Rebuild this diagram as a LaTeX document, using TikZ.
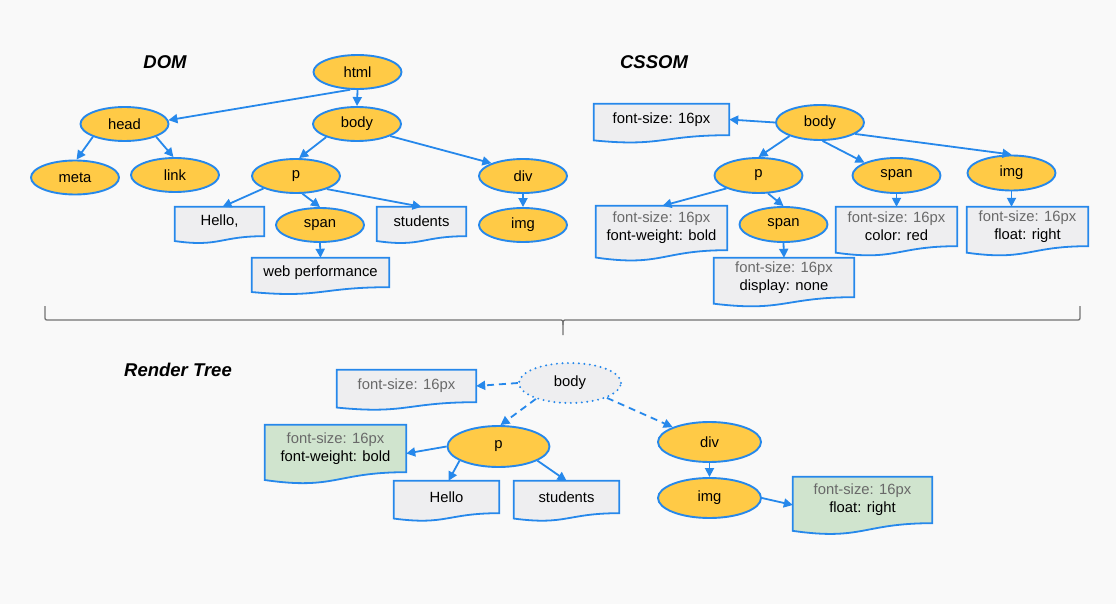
\documentclass[tikz,border=0pt]{standalone}
\usepackage{fontspec}
\setmainfont{Liberation Sans}
\usetikzlibrary{shapes.geometric,arrows.meta,calc}
\pgfdeclarelayer{background}
\pgfsetlayers{background,main}
\definecolor{bg}{RGB}{249,249,249}
\definecolor{lblue}{RGB}{38,136,235}
\definecolor{gold}{RGB}{255,202,70}
\definecolor{boxgray}{RGB}{238,238,240}
\definecolor{boxgreen}{RGB}{208,228,206}
\definecolor{txtgray}{RGB}{105,105,105}
\definecolor{bracegray}{RGB}{115,115,115}
\newcommand\nodefont{\fontsize{14.8}{18}\selectfont}
\newcommand\titlefont{\fontsize{18.5}{22}\selectfont\bfseries\itshape}
\tikzset{
  el/.style={ellipse, draw=lblue, line width=1.9pt, fill=gold, minimum width=88pt, minimum height=34pt, inner sep=0pt, font=\nodefont},
  rel/.style={el, minimum width=102pt, minimum height=41pt},
  doc/.style={rectangle, inner sep=0pt, font=\nodefont, align=center},
  arr/.style={draw=lblue, line width=1.8pt, -{Triangle[length=9pt,width=9pt]}},
  darr/.style={arr, dash pattern=on 7pt off 5pt},
  ttl/.style={font=\titlefont},
}
\newcommand\docshape[2]{%
  \begin{pgfonlayer}{background}
  \filldraw[draw=lblue, line width=1.8pt, fill=#2]
    let \p1=(#1.north west), \p2=(#1.south east), \n1={\y1-\y2} in
    (\x1,\y1) -- (\x2,\y1) -- (\x2,\y2)
    .. controls ({(\x1+\x2)/2},\y2) and ({(\x1+\x2)/2},{\y2-0.381*\n1}) ..
    (\x1,{\y2-0.165*\n1}) -- cycle;
  \end{pgfonlayer}}
\begin{document}
\begin{tikzpicture}[x=1pt,y=-1pt]
\begin{pgfonlayer}{background}
\fill[bg] (0,0) rectangle (1116,604);
\end{pgfonlayer}
\useasboundingbox (0,0) rectangle (1116,604);

% titles
\node[ttl] (tdom) at (165,62) {DOM};
\node[ttl] (tcssom) at (654,62) {CSSOM};
\node[ttl] (trender) at (178,370) {Render Tree};

% ---------------- DOM ----------------
\node[el] (html) at (357.5,72) {html};
\node[el] (head) at (124.5,124) {head};
\node[el] (dbody) at (357,124) {body};
\node[el] (meta) at (75,177.5) {meta};
\node[el] (link) at (175,175) {link};
\node[el] (dp) at (296,176) {p};
\node[el] (dspan) at (320,225) {span};
\node[el] (ddiv) at (523,176) {div};
\node[el] (dimg) at (523,225) {img};
\node[doc, minimum width=89pt, minimum height=29pt] (hello) at (219.5,221.5) {Hello,};
\node[doc, minimum width=89pt, minimum height=29pt] (dstudents) at (421.5,221.5) {students};
\node[doc, minimum width=137pt, minimum height=29pt] (web) at (320.5,272.5) {web performance};
\docshape{hello}{boxgray}
\docshape{dstudents}{boxgray}
\docshape{web}{boxgray}

\draw[arr] (html.248) -- (head.5);
\draw[arr] (html.south) -- (dbody.north);
\draw[arr] (head.202) -- (meta.85);
\draw[arr] (head.338) -- (link.95);
\draw[arr] (dbody.203) -- (dp.80);
\draw[arr] (dbody.340) -- (ddiv.158);
\draw[arr] (dp.201) -- ([xshift=3pt]hello.north);
\draw[arr] (dp.290) -- (dspan.north);
\draw[arr] (dp.337) -- (dstudents.north);
\draw[arr] (dspan.south) -- (web.north);
\draw[arr] (ddiv.south) -- (dimg.north);

% ---------------- CSSOM ----------------
\node[el, minimum height=35pt] (cbody) at (820,122.5) {body};
\node[el, minimum height=35pt] (cp) at (758.5,175.5) {p};
\node[el, minimum height=35pt] (cspan2) at (783.5,224.5) {span};
\node[el, minimum height=35pt] (cspan) at (896.5,175.5) {span};
\node[el, minimum height=35pt] (cimg) at (1011.5,173) {img};
\node[doc, minimum width=135pt, minimum height=31pt] (cfs) at (661.5,119.5) {font-size: 16px};
\node[doc, minimum width=131pt, minimum height=44pt] (cpbox) at (661.5,228) {\textcolor{txtgray}{font-size: 16px}\\font-weight: bold};
\node[doc, minimum width=140pt, minimum height=39pt] (cspan2box) at (784,277.5) {\textcolor{txtgray}{font-size: 16px}\\display: none};
\node[doc, minimum width=121pt, minimum height=39pt] (cspanbox) at (896.5,226.5) {\textcolor{txtgray}{font-size: 16px}\\color: red};
\node[doc, minimum width=121pt, minimum height=39pt] (cimgbox) at (1027.5,226.5) {\textcolor{txtgray}{font-size: 16px}\\float: right};
\docshape{cfs}{boxgray}
\docshape{cpbox}{boxgray}
\docshape{cspan2box}{boxgray}
\docshape{cspanbox}{boxgray}
\docshape{cimgbox}{boxgray}

\draw[arr] (cbody.west) -- (cfs.east);
\draw[arr] (cbody.204) -- (cp.north);
\draw[arr] (cbody.278) -- (cspan.158);
\draw[arr] (cbody.342) -- (cimg.north);
\draw[arr] (cp.202) -- ([xshift=1pt]cpbox.north);
\draw[arr] (cp.298) -- (cspan2.north);
\draw[arr] (cspan2.south) -- (cspan2box.north);
\draw[arr] (cspan.south) -- (cspanbox.north);
\draw[arr] (cimg.south) -- (cimg.south |- cimgbox.north);

% ---------------- brace ----------------
\draw[bracegray, line width=1.3pt, line join=round]
  (45,306) -- (45,316) .. controls (45,320) .. (49,320) -- (559,320)
  .. controls (563,320) .. (563,325) -- (563,335);
\draw[bracegray, line width=1.3pt, line join=round]
  (1080,306) -- (1080,316) .. controls (1080,320) .. (1076,320) -- (567,320)
  .. controls (563,320) .. (563,325);

% ---------------- Render Tree ----------------
\node[rel, fill=boxgray, draw=lblue, line width=2.2pt, dash pattern=on 0pt off 5.5pt, line cap=round, minimum height=40pt] (rbody) at (570,383) {body};
\node[rel] (rp) at (498.5,446.5) {p};
\node[rel, minimum width=103pt, minimum height=40pt] (rdiv) at (709.5,442) {div};
\node[rel, minimum width=103pt, minimum height=40pt] (rimg) at (709.5,498) {img};
\node[doc, minimum width=139pt, minimum height=32pt] (rfs) at (406.5,386) {\textcolor{txtgray}{font-size: 16px}};
\node[doc, minimum width=141pt, minimum height=47pt] (rg1) at (335.5,448.5) {\textcolor{txtgray}{font-size: 16px}\\font-weight: bold};
\node[doc, minimum width=105pt, minimum height=32pt] (rhello) at (446.5,497) {Hello};
\node[doc, minimum width=105pt, minimum height=32pt] (rstudents) at (566.5,497) {students};
\node[doc, minimum width=139pt, minimum height=46pt] (rg2) at (862.5,500) {\textcolor{txtgray}{font-size: 16px}\\float: right};
\docshape{rfs}{boxgray}
\docshape{rg1}{boxgreen}
\docshape{rhello}{boxgray}
\docshape{rstudents}{boxgray}
\docshape{rg2}{boxgreen}

\draw[darr] (rbody.west) -- (rfs.east);
\draw[darr] (rbody.205) -- ([xshift=2pt]rp.north);
\draw[darr] (rbody.338) -- (rdiv.158);
\draw[arr] (rp.west) -- ([yshift=-5pt]rg1.east);
\draw[arr] (rp.200) -- ([xshift=2pt]rhello.north);
\draw[arr] (rp.340) -- (rstudents.north);
\draw[arr] (rdiv.south) -- (rimg.north);
\draw[arr] (rimg.east) -- ([yshift=-5pt]rg2.west);
\end{tikzpicture}
\end{document}
